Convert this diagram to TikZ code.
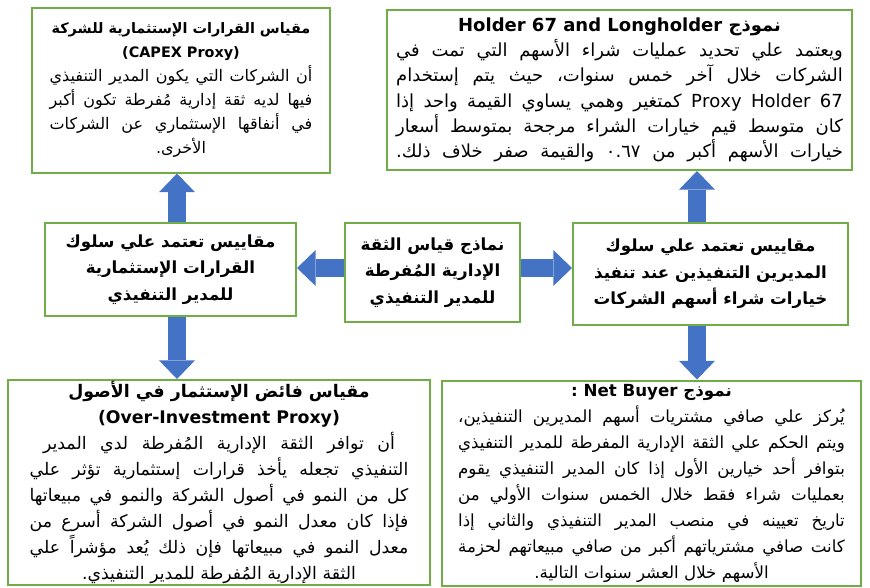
\documentclass[tikz,border=0pt]{standalone}
\usepackage{fontspec}
\newfontfamily\arabicfont[Script=Arabic]{DejaVu Sans}
\TeXXeTstate=1
\usetikzlibrary{arrows.meta}
\definecolor{boxgreen}{RGB}{112,173,71}
\definecolor{arrowblue}{RGB}{68,114,196}
% justified line of a given width
\newcommand{\jline}[2]{\makebox[#1][s]{#2}}

\begin{document}
\begin{tikzpicture}[x=0.75pt,y=-0.75pt]
  \tikzstyle{greenbox}=[draw=boxgreen, line width=1.5pt, rectangle, inner sep=0pt, align=center, font=\arabicfont\fontsize{11.5}{19.5}\selectfont]
  \tikzstyle{midbox}=[greenbox, font=\arabicfont\bfseries\fontsize{12.5}{20}\selectfont]
  \tikzstyle{blockarrow}=[draw=arrowblue, line width=13.5pt, -{Triangle[width=27pt,length=14pt,line width=0pt,fill=arrowblue]}]
  \useasboundingbox (0,0) rectangle (870,587);
  %
  % middle row
  \node[midbox, minimum width=188.25pt, minimum height=69.75pt] (mlbox) at (170.5,269.5)
    {\beginR مقاييس تعتمد علي سلوك\endR\\ \beginR القرارات الإستثمارية\endR\\ \beginR للمدير التنفيذي\endR};
  \node[midbox, minimum width=131.25pt, minimum height=74.25pt] (mcbox) at (432.5,272.5)
    {\beginR نماذج قياس الثقة\endR\\ \beginR الإدارية المُفرطة\endR\\ \beginR للمدير التنفيذي\endR};
  \node[midbox, minimum width=206.25pt, minimum height=76.5pt] (mrbox) at (710.5,274)
    {\beginR مقاييس تعتمد علي سلوك\endR\\ \beginR المديرين التنفيذين عند تنفيذ\endR\\ \beginR خيارات شراء أسهم الشركات\endR};
  %
  % top row
  \node[greenbox, font=\arabicfont\fontsize{12}{18}\selectfont, minimum width=223.5pt, minimum height=123.75pt] (tlbox) at (181,90)
    {{\fontsize{10.8}{18}\selectfont\bfseries\beginR مقياس القرارات الإستثمارية للشركة\endR}\\
     {\fontsize{10.8}{18}\selectfont\bfseries (CAPEX Proxy)}\\
     \jline{197pt}{\beginR أن الشركات التي يكون المدير التنفيذي\endR}\\
     \jline{197pt}{\beginR فيها لديه ثقة إدارية مُفرطة تكون أكبر\endR}\\
     \jline{197pt}{\beginR في أنفاقها الإستثماري عن الشركات\endR}\\
     \beginR الأخرى.\endR};
  \node[greenbox, font=\arabicfont\fontsize{13.5}{19}\selectfont, minimum width=348.75pt, minimum height=120pt] (trbox) at (619.5,90)
    {\textbf{\beginR نموذج \beginL Holder 67 and Longholder\endL\endR}\\
     \jline{335pt}{\beginR ويعتمد علي تحديد عمليات شراء الأسهم التي تمت في\endR}\\
     \jline{335pt}{\beginR الشركات خلال آخر خمس سنوات، حيث يتم إستخدام\endR}\\
     \jline{335pt}{\beginR \beginL Proxy Holder 67\endL\ كمتغير وهمي يساوي القيمة واحد إذا\endR}\\
     \jline{335pt}{\beginR كان متوسط قيم خيارات الشراء مرجحة بمتوسط أسعار\endR}\\
     \jline{335pt}{\beginR خيارات الأسهم أكبر من \beginL ٠.٦٧\endL\ والقيمة صفر خلاف ذلك.\endR}};
  %
  % bottom row
  \node[greenbox, font=\arabicfont\fontsize{13}{19.5}\selectfont, minimum width=316.5pt, minimum height=153.75pt] (blbox) at (219,482.5)
    {\textbf{\beginR مقياس فائض الإستثمار في الأصول\endR}\\
     \textbf{(Over-Investment Proxy)}\\
     \jline{264pt}{\beginR أن توافر الثقة الإدارية المُفرطة لدي المدير\endR}\\
     \jline{284pt}{\beginR التنفيذي تجعله يأخذ قرارات إستثمارية تؤثر علي\endR}\\
     \jline{284pt}{\beginR كل من النمو في أصول الشركة والنمو في مبيعاتها\endR}\\
     \jline{284pt}{\beginR فإذا كان معدل النمو في أصول الشركة أسرع من\endR}\\
     \jline{284pt}{\beginR معدل النمو في مبيعاتها فإن ذلك يُعد مؤشراً علي\endR}\\
     \beginR الثقة الإدارية المُفرطة للمدير التنفيذي.\endR};
  \node[greenbox, font=\arabicfont\fontsize{12.5}{19.5}\selectfont, minimum width=314.25pt, minimum height=153.75pt] (brbox) at (651.5,483)
    {\textbf{\beginR نموذج \beginL Net Buyer\endL\ :\endR}\\
     \jline{290pt}{\beginR يُركز علي صافي مشتريات أسهم المديرين التنفيذين،\endR}\\
     \jline{290pt}{\beginR ويتم الحكم علي الثقة الإدارية المفرطة للمدير التنفيذي\endR}\\
     \jline{290pt}{\beginR بتوافر أحد خيارين الأول إذا كان المدير التنفيذي يقوم\endR}\\
     \jline{290pt}{\beginR بعمليات شراء فقط خلال الخمس سنوات الأولي من\endR}\\
     \jline{290pt}{\beginR تاريخ تعيينه في منصب المدير التنفيذي والثاني إذا\endR}\\
     \jline{290pt}{\beginR كانت صافي مشترياتهم أكبر من صافي مبيعاتهم لحزمة\endR}\\
     \beginR الأسهم خلال العشر سنوات التالية.\endR};
  %
  % arrows
  \coordinate (lx) at (177,0);
  \coordinate (rx) at (697,0);
  \coordinate (my) at (0,268);
  \draw[blockarrow] (mlbox.north -| lx) -- (tlbox.south -| lx);
  \draw[blockarrow] (mlbox.south -| lx) -- (blbox.north -| lx);
  \draw[blockarrow] (mrbox.north -| rx) -- (trbox.south -| rx);
  \draw[blockarrow] (mrbox.south -| rx) -- (brbox.north -| rx);
  \draw[blockarrow] (mcbox.west |- my) -- (mlbox.east |- my);
  \draw[blockarrow] (mcbox.east |- my) -- (mrbox.west |- my);
\end{tikzpicture}
\end{document}
